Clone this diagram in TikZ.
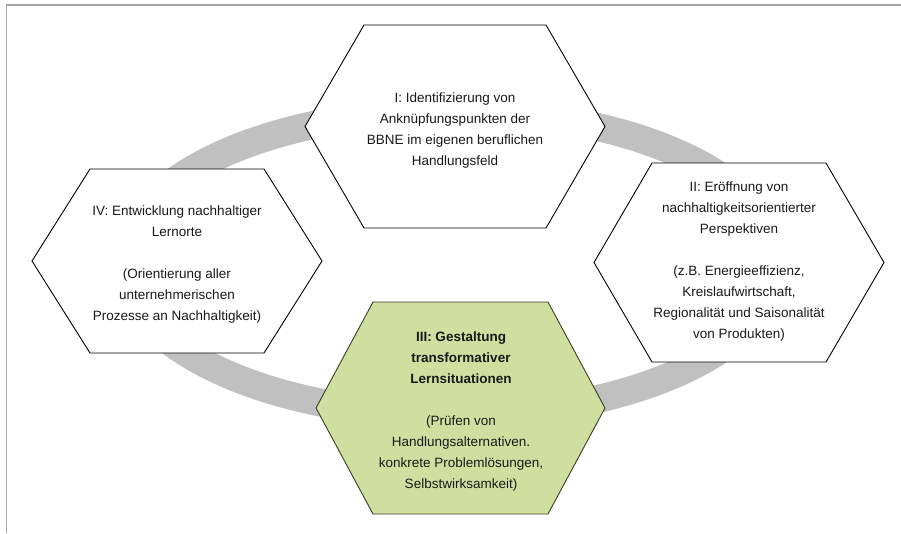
\documentclass[tikz,border=0pt]{standalone}
\usepackage{fontspec}
\setmainfont{Liberation Sans}
\definecolor{ringgray}{RGB}{192,192,192}
\definecolor{framegray}{RGB}{165,165,165}
\definecolor{hexgreen}{RGB}{208,223,160}
\definecolor{hexgreenline}{RGB}{55,62,38}
\definecolor{txt}{RGB}{25,25,25}
\newcommand{\hexpath}[5]{(#1-#3,#2) -- (#1-#4,#2-#5) -- (#1+#4,#2-#5) -- (#1+#3,#2) -- (#1+#4,#2+#5) -- (#1-#4,#2+#5) -- cycle}
\begin{document}
\begin{tikzpicture}[x=1pt,y=-1pt,
  hexwhite/.style={draw=black,line width=0.9pt,fill=white,line join=miter},
  hexgreenst/.style={draw=hexgreenline,line width=0.9pt,fill=hexgreen,line join=miter},
  label/.style={align=center,text=txt,font=\fontsize{13.5}{21}\selectfont,inner sep=0pt}]
\useasboundingbox (0,0) rectangle (901,533);
% frame
\draw[framegray,line width=1.3pt] (901,5) -- (6.5,5) -- (6.5,533);
% ring
\draw[ringgray,line width=28pt] (451,263) ellipse [x radius=328, y radius=152];
% hexagons
\draw[hexwhite] \hexpath{455}{126.5}{150}{91}{101.5};
\draw[hexwhite] \hexpath{177}{261}{145}{87}{92};
\draw[hexwhite] \hexpath{739}{262.5}{145}{87}{99.5};
\draw[hexgreenst] \hexpath{460.5}{408}{144.5}{87.5}{106};
% texts
\node[label] (n1) at (455,131) {I: Identifizierung von\\Anknüpfungspunkten der\\BBNE im eigenen beruflichen\\Handlungsfeld};
\node[label] (n4) at (177,265) {IV: Entwicklung nachhaltiger\\Lernorte\\[21pt](Orientierung aller\\unternehmerischen\\Prozesse an Nachhaltigkeit)};
\node[label] (n2) at (739,262) {II: Eröffnung von\\nachhaltigkeitsorientierter\\Perspektiven\\[21pt](z.B. Energieeffizienz,\\Kreislaufwirtschaft,\\Regionalität und Saisonalität\\von Produkten)};
\node[label] (n3) at (461,411) {\textbf{III: Gestaltung}\\\textbf{transformativer}\\\textbf{Lernsituationen}\\[21pt](Prüfen von\\Handlungsalternativen.\\konkrete Problemlösungen,\\Selbstwirksamkeit)};
\end{tikzpicture}
\end{document}
